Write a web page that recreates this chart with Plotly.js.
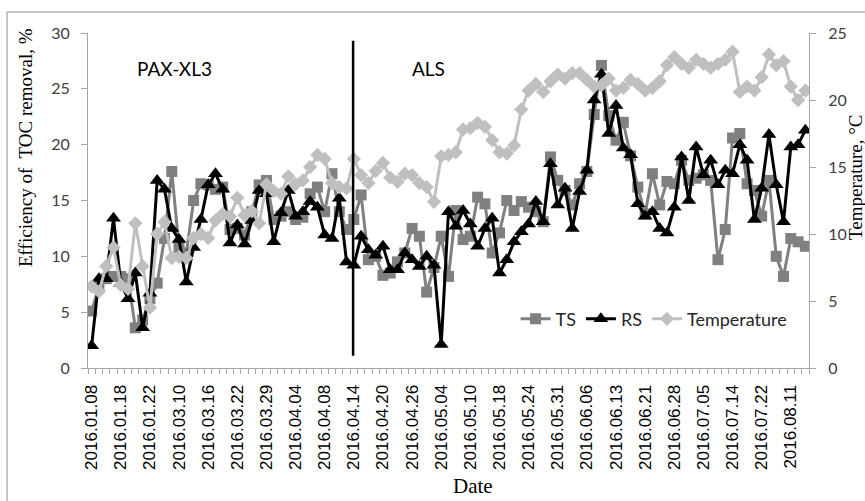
<!DOCTYPE html>
<html>
<head>
<meta charset="utf-8">
<script src="https://cdn.plot.ly/plotly-3.0.1.min.js"></script>
<style>html,body{margin:0;padding:0;background:#fff;}#chart{width:865px;height:501px;}</style>
</head>
<body>
<div id="chart"></div>
<script>
// Tick labels (every 4th sampling date)
const dateLabels = ["2016.01.08","2016.01.18","2016.01.22","2016.03.10","2016.03.16","2016.03.22","2016.03.29",
  "2016.04.04","2016.04.08","2016.04.14","2016.04.20","2016.04.26","2016.05.04","2016.05.10","2016.05.18",
  "2016.05.24","2016.05.31","2016.06.06","2016.06.13","2016.06.21","2016.06.28","2016.07.05","2016.07.14",
  "2016.07.22","2016.08.11"];

// Efficiency of TOC removal, % (TS)
const TS = [5.1,7.3,8.0,8.2,8.2,8.0,3.6,4.3,6.2,7.6,
  11.6,17.6,10.8,10.3,15.0,16.5,16.4,16.0,16.2,12.4,
  12.5,11.9,14.0,16.4,16.8,13.3,13.6,14.0,13.3,13.5,
  15.6,16.2,14.0,17.4,14.0,12.4,13.3,15.5,9.7,10.0,
  8.3,8.5,9.5,10.3,12.5,11.8,6.8,9.0,11.8,8.2,
  14.1,11.5,11.8,15.3,14.7,10.3,12.1,15.0,14.1,14.9,
  14.4,14.0,13.1,18.9,16.8,15.9,14.6,16.5,17.6,22.7,
  27.1,22.6,20.4,22.0,19.0,16.2,13.8,17.4,14.6,16.7,
  16.5,18.6,16.8,17.0,17.3,16.8,9.7,12.4,20.6,21.0,
  16.5,15.9,13.6,16.8,10.0,8.2,11.6,11.3,10.9];

// Efficiency of TOC removal, % (RS)
const RS = [2.0,8.0,8.0,13.4,7.6,6.2,8.5,3.6,6.7,16.8,
  16.0,12.5,11.5,7.7,10.8,13.3,16.4,17.4,16.0,11.2,
  12.8,11.1,13.2,15.9,15.6,11.3,13.9,15.9,13.6,14.0,
  14.9,14.4,11.9,11.6,15.2,9.5,9.2,11.8,10.6,10.1,
  10.9,8.8,8.8,10.3,9.7,9.1,10.0,9.2,2.1,14.0,
  12.7,14.1,12.9,10.9,12.5,13.4,8.5,9.7,11.3,12.2,
  12.9,14.9,13.1,18.3,14.6,16.1,12.5,15.8,17.7,24.0,
  26.3,21.0,23.5,19.7,19.1,14.7,13.6,14.0,12.5,12.1,
  14.4,18.9,15.0,19.8,17.3,18.6,16.4,17.7,17.4,20.0,
  18.6,13.3,16.1,20.9,16.4,13.1,19.8,20.0,21.3];

// Temperature, °C
const TEMP = [6.1,5.7,7.6,9.0,6.2,5.9,10.8,7.6,4.5,10.0,
  10.9,8.2,8.3,8.2,9.7,10.0,9.7,11.0,11.5,11.3,
  12.7,11.4,11.7,10.8,13.7,13.2,13.0,14.3,13.7,14.0,
  15.0,15.9,15.6,13.8,13.5,13.4,15.6,14.4,13.8,14.7,
  15.3,14.2,13.9,14.5,14.4,13.8,13.5,12.4,15.8,15.9,
  16.1,17.8,17.9,18.3,18.0,17.0,16.1,16.0,16.6,19.3,
  20.7,21.2,20.6,21.4,21.9,21.6,22.0,22.0,21.5,21.0,
  21.1,21.6,20.7,20.9,21.5,21.2,20.7,20.9,21.4,22.6,
  23.2,22.7,22.4,23.0,22.7,22.4,22.7,23.0,23.6,20.6,
  21.0,20.7,21.7,23.4,22.6,22.9,21.0,20.0,20.7];

const idx = TS.map((_, i) => i);
const tickPos = dateLabels.map((_, i) => i * 4);

const traces = [
  {x: idx, y: TS, name: "TS", type: "scatter", mode: "lines+markers",
   line: {color: "#808080", width: 3},
   marker: {symbol: "square", size: 11, color: "#808080"}},
  {x: idx, y: RS, name: "RS", type: "scatter", mode: "lines+markers",
   line: {color: "#000000", width: 3},
   marker: {symbol: "triangle-up", size: 13, color: "#000000"}},
  {x: idx, y: TEMP, name: "Temperature", type: "scatter", mode: "lines+markers", yaxis: "y2",
   line: {color: "#BFBFBF", width: 3},
   marker: {symbol: "diamond", size: 11, color: "#BFBFBF"}}
];

const axisGray = "#A6A6A6";
const layout = {
  width: 865, height: 501,
  margin: {l: 88, r: 56, t: 33, b: 133},
  paper_bgcolor: "#ffffff", plot_bgcolor: "#ffffff",
  showlegend: true,
  legend: {orientation: "h", x: 0.593, xanchor: "left", y: 0.146, yanchor: "middle",
    bgcolor: "rgba(0,0,0,0)", font: {family: "Lato, Liberation Sans, sans-serif", size: 18, color: "#262626"},
    itemwidth: 30, tracegroupgap: 0},
  xaxis: {range: [-0.5, 98.5], tickmode: "array", tickvals: tickPos, ticktext: dateLabels,
    tickangle: -90, ticks: "", showgrid: false, zeroline: false,
    showline: true, linecolor: axisGray, linewidth: 1,
    ticklabelstandoff: 9,
    tickfont: {family: "Liberation Sans, Arial, sans-serif", size: 17, color: "#000"},
    minor: {ticks: "outside", tick0: -0.5, dtick: 1, ticklen: 5, tickcolor: axisGray, showgrid: false}},
  yaxis: {range: [0, 30], dtick: 5, tick0: 0, ticks: "outside", ticklen: 6, tickcolor: axisGray,
    showgrid: false, zeroline: false, showline: true, linecolor: axisGray, linewidth: 1,
    ticklabelstandoff: 8,
    tickfont: {family: "Lato, Liberation Sans, sans-serif", size: 16, color: "#404040"}},
  yaxis2: {range: [0, 25], dtick: 5, tick0: 0, overlaying: "y", side: "right", ticks: "outside",
    ticklen: 6, tickcolor: axisGray, showgrid: false, zeroline: false, showline: true,
    linecolor: axisGray, linewidth: 1, ticklabelstandoff: 9,
    tickfont: {family: "Lato, Liberation Sans, sans-serif", size: 16, color: "#404040"}},
  shapes: [
    {type: "line", xref: "x", yref: "y", x0: 35.9, x1: 35.9, y0: 1.1, y1: 29.3,
     line: {color: "#000", width: 2.5}},
    {type: "rect", xref: "paper", yref: "paper", x0: -0.1123, x1: 1.3, y0: -0.6, y1: 1.0627,
     line: {color: "#8C8C8C", width: 1}, fillcolor: "rgba(0,0,0,0)", layer: "below"}
  ],
  annotations: [
    {text: "PAX-XL3", xref: "paper", yref: "paper", x: (174 - 88) / 721, y: (368 - 68) / 335,
     showarrow: false, xanchor: "center", yanchor: "middle",
     font: {family: "Lato, Liberation Sans, sans-serif", size: 19, color: "#000"}},
    {text: "ALS", xref: "paper", yref: "paper", x: (428 - 88) / 721, y: (368 - 68) / 335,
     showarrow: false, xanchor: "center", yanchor: "middle",
     font: {family: "Lato, Liberation Sans, sans-serif", size: 19, color: "#000"}},
    {text: "Efficiency of  TOC removal, %", xref: "paper", yref: "paper",
     x: (25 - 88) / 721, y: (368 - 148) / 335, textangle: -90, showarrow: false,
     xanchor: "center", yanchor: "middle",
     font: {family: "Liberation Serif, Times New Roman, serif", size: 19, color: "#000"}},
    {text: "Temperature, °C", xref: "paper", yref: "paper",
     x: (855 - 88) / 721, y: (368 - 177) / 335, textangle: -90, showarrow: false,
     xanchor: "center", yanchor: "middle",
     font: {family: "Liberation Serif, Times New Roman, serif", size: 19, color: "#000"}},
    {text: "Date", xref: "paper", yref: "paper",
     x: (473 - 88) / 721, y: (368 - 486) / 335, showarrow: false,
     xanchor: "center", yanchor: "middle",
     font: {family: "Liberation Serif, Times New Roman, serif", size: 21, color: "#000"}}
  ]
};

Plotly.newPlot("chart", traces, layout, {displayModeBar: false, staticPlot: true});
</script>
</body>
</html>
